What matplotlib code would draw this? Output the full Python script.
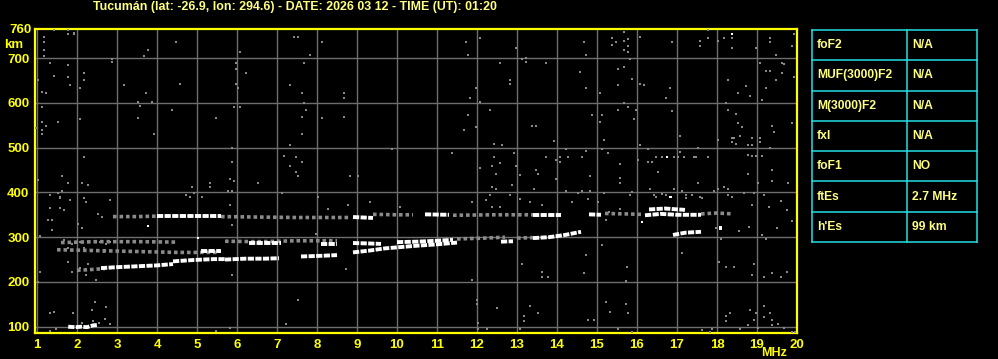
import matplotlib
matplotlib.use("Agg")
import matplotlib.pyplot as plt

# header / table contents
title = "Tucumán (lat: -26.9, lon: 294.6) - DATE: 2026 03 12 - TIME (UT): 01:20"
param_names = ["foF2", "MUF(3000)F2", "M(3000)F2", "fxl", "foF1", "ftEs", "h'Es"]
param_values = ["N/A", "N/A", "N/A", "N/A", "NO", "2.7 MHz", "99 km"]

freq_ticks = list(range(1, 21))
height_ticks = [100, 200, 300, 400, 500, 600, 700]

# strong echo traces (white), each: (freqs MHz, virtual heights km)
white_traces = [
    ([1.78, 1.95, 2.1, 2.25, 2.4, 2.5], [100, 99, 100, 99, 103, 104]),
    ([2.6, 3.0, 3.5, 4.0, 4.4], [231, 233, 235, 237, 240]),
    ([4.4, 4.9, 5.4, 5.7], [246, 249, 251, 251]),
    ([5.7, 6.2, 6.7, 7.05], [250, 252, 252, 253]),
    ([7.6, 8.0, 8.5], [257, 258, 260]),
    ([8.9, 9.3, 9.7, 10.1, 10.5, 11.0, 11.5], [266, 270, 275, 278, 281, 284, 288]),
    ([12.6, 12.9], [290, 291]),
    ([13.4, 13.8, 14.2, 14.6], [298, 300, 305, 312]),
    ([5.1, 5.6], [269, 269]),
    ([6.3, 6.8, 7.1], [286, 286, 286]),
    ([8.1, 8.5], [284, 284]),
    ([8.9, 9.3, 9.6], [287, 286, 285]),
    ([10.0, 10.5, 11.0, 11.4], [289, 290, 292, 294]),
    ([4.0, 4.5, 5.0, 5.6], [348, 348, 348, 348]),
    ([8.9, 9.4], [345, 343]),
    ([10.7, 11.3], [351, 350]),
    ([13.4, 13.8, 14.1], [349, 349, 349]),
    ([14.8, 15.1], [351, 350]),
    ([16.2, 16.6, 17.0, 17.6], [349, 352, 350, 350]),
    ([16.3, 16.7, 17.2], [362, 364, 361]),
    ([16.9, 17.2, 17.6], [305, 310, 312]),
    ([18.05, 18.13], [321, 321]),
]

# weak traces (grey, speckled)
grey_traces = [
    ([2.9, 3.5, 4.0], [346, 346, 347]),
    ([5.6, 6.5, 7.5, 8.8], [346, 345, 344, 344]),
    ([9.4, 10.0, 10.4], [351, 350, 350]),
    ([11.4, 12.4, 13.4], [349, 350, 350]),
    ([15.2, 15.7, 16.1], [353, 352, 351]),
    ([17.6, 18.0, 18.4], [352, 354, 352]),
    ([1.5, 2.5, 3.5, 4.5, 5.5], [272, 270, 268, 266, 266]),
    ([1.6, 2.5, 3.5, 4.5], [288, 290, 290, 289]),
    ([5.7, 6.5, 7.5, 8.5], [291, 290, 292, 292]),
    ([11.5, 12.2, 12.7], [296, 298, 300]),
    ([13.0, 13.4], [298, 299]),
    ([2.0, 2.4, 2.7], [226, 228, 230]),
]

# scattered interference dots
noise_f = [1.43, 1.78, 1.78, 1.93, 1.93, 1.18, 1.18, 1.18, 1.18, 1.33, 1.78, 1.43, 1.78, 1.03, 1.83,
           2.08, 2.18, 2.18, 1.13, 1.23, 2.88, 2.88, 3.78, 3.68, 4.48, 3.18, 3.73, 3.53, 3.58, 3.88,
           4.58, 6.08, 5.98, 5.98, 6.23, 5.98, 6.03, 7.43, 7.53, 7.83, 8.13, 7.68, 7.33, 7.63, 8.68,
           8.68, 1.13, 5.93, 6.08, 7.68, 7.73, 7.63, 8.13, 8.68, 4.38, 5.48, 2.08, 3.53, 1.13, 1.53,
           1.23, 1.13, 1.13, 0.98, 3.93, 7.63, 5.88, 7.33, 7.18, 7.48, 7.63, 7.33, 7.48, 7.53, 2.18,
           9.88, 8.83, 9.03, 1.63, 1.78, 2.13, 2.28, 5.88, 5.83, 5.93, 5.33, 5.33, 4.88, 6.53, 1.63,
           1.33, 1.53, 1.58, 4.73, 4.83, 4.93, 5.13, 5.78, 5.88, 7.13, 8.03, 1.03,
           11.73, 12.08, 11.78, 12.98, 13.13, 13.23, 13.23, 13.73, 12.58, 14.68, 14.73, 15.38, 15.48,
           15.38, 15.68, 15.78, 15.78, 15.68, 15.78, 15.68, 16.08, 16.88, 17.78, 17.78, 17.58, 17.58,
           18.03, 18.18, 18.38, 18.38, 19.33, 19.33, 19.48, 18.98, 19.93, 19.88, 15.83, 14.58, 15.53,
           15.68, 15.88, 12.83, 12.83, 14.73, 15.53, 16.08, 16.18, 16.83, 16.73, 15.08, 11.98, 11.83,
           12.08, 19.08, 19.23, 19.33, 19.63, 19.68, 19.63, 19.48, 19.93, 18.28, 18.73, 18.53, 18.83,
           19.23, 19.13, 12.33, 11.78, 11.68, 11.98, 13.38, 13.48, 13.93, 12.43, 12.63, 14.88, 15.13,
           15.08, 15.53, 15.68, 15.78, 15.98, 15.93, 16.88, 15.18, 16.08, 17.08, 18.23, 18.28, 18.48,
           18.53, 18.63, 18.58, 18.38, 18.43, 18.38, 18.48, 18.03, 18.88, 19.08, 19.08, 18.78, 18.88,
           19.38, 19.43, 19.88, 11.38, 12.43, 12.58, 12.93, 12.08, 12.38, 12.48, 12.98, 13.08, 13.48,
           13.53, 13.73, 13.98, 14.08, 14.08, 14.23, 14.28, 14.63, 14.73, 15.13, 15.28, 15.58, 14.83,
           13.98, 15.58, 15.58, 12.38, 12.48, 12.88, 13.43, 14.23, 14.53, 14.63, 14.83, 15.18, 15.88,
           15.83, 12.33, 12.83, 16.03, 16.28, 16.48, 16.63, 16.93, 17.03, 17.08, 17.18, 17.43, 17.48,
           17.78, 17.53, 16.28, 16.38, 16.53, 17.53, 18.78, 18.88, 18.98, 19.13, 18.78, 19.38, 19.38,
           19.78, 19.03, 19.33, 18.18, 18.28, 18.03, 17.93, 16.33, 16.43, 16.63, 16.73, 16.93, 17.13,
           17.23, 17.38, 17.58, 18.68, 18.93, 19.18, 18.28,
           2.45, 2.73, 1.90, 1.32, 1.43, 2.38, 2.70, 2.82, 2.56, 2.40, 2.12, 1.32, 1.48, 5.48, 5.83,
           7.23, 7.53, 11.99, 11.99, 12.02, 12.02, 12.24, 12.49,
           13.18, 13.18, 13.33, 13.53, 13.08, 14.78, 14.93, 15.23, 15.33, 15.73, 15.78, 15.53, 15.88,
           17.63, 17.83, 17.88, 18.23, 18.33, 18.23, 18.58, 18.78, 18.83, 18.98, 18.93, 19.03, 19.18,
           19.18, 19.33, 19.38, 19.38, 19.53, 19.68, 19.88, 19.95,
           1.58, 1.83, 2.18, 2.23, 2.83, 1.33, 1.58, 1.68, 1.28, 1.38, 1.38, 2.03, 2.13, 2.53, 2.63,
           3.13, 1.08, 1.68, 1.78, 1.88, 2.08, 2.18, 2.58, 2.73, 2.83, 2.68, 1.78, 2.08, 2.28, 2.53,
           1.88, 2.23, 1.08, 2.48, 1.03,
           5.83, 8.03, 8.28, 8.78, 9.33, 10.08, 5.88, 8.73, 5.88, 7.98,
           11.88, 12.23, 12.38, 12.58, 13.08, 13.33, 13.63, 14.38, 14.78, 15.03, 13.13, 13.63, 13.63,
           13.78, 14.73, 15.13, 11.88, 14.68,
           15.30, 15.22, 15.57, 16.47, 17.22, 17.63, 18.38, 18.88, 19.30, 19.59, 19.76, 19.88, 19.51,
           19.13, 17.97, 18.55, 18.80, 17.13, 18.05, 18.22, 18.43, 18.93, 18.88, 19.18, 19.38, 19.59,
           19.76, 15.76, 15.72, 18.09, 19.22]
noise_h = [762, 762, 753, 757, 753, 748, 735, 717, 704, 688, 684, 661, 657, 652, 639,
           634, 666, 652, 625, 621, 697, 692, 717, 704, 735, 639, 621, 603, 594, 603,
           643, 713, 688, 675, 666, 643, 634, 748, 748, 708, 735, 688, 641, 621, 621,
           612, 590, 590, 590, 599, 585, 569, 567, 569, 585, 567, 563, 567, 558, 558,
           549, 540, 531, 543, 531, 531, 499, 505, 482, 478, 469, 460, 446, 437, 478,
           496, 437, 437, 437, 422, 422, 417, 469, 431, 426, 422, 411, 413, 422, 404,
           395, 399, 390, 395, 390, 399, 390, 404, 404, 399, 390, 428,
           735, 744, 708, 722, 699, 701, 692, 688, 688, 735, 708, 746, 735,
           730, 739, 742, 726, 717, 713, 759, 748, 737, 762, 746, 739, 726,
           739, 744, 744, 722, 744, 735, 708, 722, 753, 726, 699, 670, 675,
           681, 654, 652, 643, 634, 639, 643, 639, 634, 612, 621, 634, 612,
           603, 688, 672, 672, 688, 686, 666, 652, 657, 652, 637, 623, 616,
           634, 607, 585, 572, 540, 545, 549, 549, 514, 509, 505, 572, 572,
           558, 585, 599, 590, 583, 563, 581, 518, 507, 527, 599, 585, 576,
           554, 545, 527, 522, 522, 513, 509, 518, 522, 522, 513, 505, 505,
           549, 534, 554, 487, 478, 466, 487, 455, 460, 442, 460, 440, 451,
           442, 478, 473, 478, 469, 498, 480, 478, 493, 496, 489, 464, 437,
           431, 433, 420, 413, 408, 417, 408, 404, 399, 404, 404, 399, 401,
           395, 395, 395, 473, 498, 480, 478, 478, 480, 491, 478, 480, 478,
           480, 500, 469, 469, 446, 422, 484, 482, 482, 482, 442, 451, 426,
           420, 422, 500, 413, 408, 408, 404, 408, 395, 397, 395, 408, 404,
           395, 395, 390, 399, 399, 395, 395,
           155, 143, 131, 131, 132, 137, 118, 106, 109, 112, 109, 91, 95, 91, 98,
           106, 160, 160, 150, 108, 95, 95, 142,
           123, 112, 147, 130, 94, 116, 116, 156, 134, 150, 130, 95, 88,
           92, 88, 94, 125, 130, 112, 94, 103, 137, 130, 116, 98, 147,
           121, 130, 116, 103, 107, 97, 88, 88,
           388, 384, 388, 379, 382, 366, 366, 361, 339, 339, 317, 330, 321, 352, 344,
           344, 303, 294, 276, 285, 290, 276, 290, 285, 290, 267, 245, 232, 241, 229,
           223, 215, 223, 205, 200,
           373, 390, 363, 372, 379, 367, 327, 230, 215, 308,
           379, 384, 368, 368, 385, 379, 372, 379, 385, 379, 241, 223, 211,
           211, 260, 282, 204, 219,
           357, 338, 363, 390, 387, 388, 390, 372, 368, 381, 361, 336, 320,
           305, 320, 314, 323, 264, 245, 234, 234, 241, 215, 211, 219, 211,
           223, 234, 202, 297, 297]

# isolated strong dots
white_f = [3.78, 5.03, 16.84, 16.13, 18.38, 16.75, 16.83]
white_h = [326, 299, 390, 333, 753, 480, 390]

YELLOW = "#ffff00"
PALE = "#ffff80"
GREY = "#8a8a8a"
GRID = "#6e6e6e"
CYAN = "#22e0e6"

plt.rcParams['font.family'] = ['Liberation Sans', 'DejaVu Sans']

fig = plt.figure(figsize=(9.98, 3.59), dpi=100, facecolor="black")
W, H = 998, 359
ax = fig.add_axes([35 / W, (H - 333) / H, (797 - 35) / W, (333 - 29) / H])
ax.set_facecolor("black")
ax.set_xlim(0.95, 20.0)
ax.set_ylim(86, 765)

ax.set_xticks(freq_ticks)
ax.set_yticks(height_ticks)
ax.grid(True, color=GRID, linewidth=1.0)
ax.set_axisbelow(True)
ax.tick_params(length=0, colors=YELLOW, labelsize=9.5, pad=4)
for lbl in ax.get_xticklabels() + ax.get_yticklabels():
    lbl.set_fontweight("bold")
    lbl.set_color(YELLOW)
for s in ax.spines.values():
    s.set_color(YELLOW)
    s.set_linewidth(1.6)

ax.scatter(noise_f, noise_h, marker="s", s=4.5, color=GREY, linewidths=0, zorder=3)
for f, h in grey_traces:
    ax.plot(f, h, color=GREY, linewidth=2.6, linestyle=(0, (1.0, 0.8)), zorder=3)
for f, h in white_traces:
    ax.plot(f, h, color="white", linewidth=2.8, linestyle=(0, (1.6, 0.35)),
            dash_capstyle="butt", zorder=4)
ax.scatter(white_f, white_h, marker="s", s=3.5, color="white", linewidths=0, zorder=4)

fig.text(295 / W, 1 - 7 / H, title, color=PALE, fontsize=8.9, fontweight="bold",
         ha="center", va="center")
fig.text(32 / W, 1 - 30 / H, "760", color=YELLOW, fontsize=9.5, fontweight="bold",
         ha="right", va="center")
fig.text(14 / W, 1 - 45 / H, "km", color=YELLOW, fontsize=9.5, fontweight="bold",
         ha="center", va="center")
fig.text(774 / W, 1 - 353 / H, "MHz", color=YELLOW, fontsize=9, fontweight="bold",
         ha="center", va="center")

# parameter table
tx0, tx1, tx2 = 812, 907, 977
ty0, ty1 = 30, 242
nrow = len(param_names)
rh = (ty1 - ty0) / nrow
tab = fig.add_axes([0, 0, 1, 1], facecolor="none")
tab.set_xlim(0, W)
tab.set_ylim(H, 0)
tab.axis("off")
for i in range(nrow + 1):
    tab.plot([tx0, tx2], [ty0 + i * rh] * 2, color=CYAN, linewidth=1.1)
for x in (tx0, tx1, tx2):
    tab.plot([x, x], [ty0, ty1], color=CYAN, linewidth=1.1)
for i, (n, v) in enumerate(zip(param_names, param_values)):
    yc = ty0 + (i + 0.5) * rh
    tab.text(tx0 + 5, yc, n, color=PALE, fontsize=8.7, fontweight="bold", va="center")
    tab.text(tx1 + 5, yc, v, color=PALE, fontsize=8.7, fontweight="bold", va="center")

fig.savefig("out.png", dpi=100, facecolor="black")
